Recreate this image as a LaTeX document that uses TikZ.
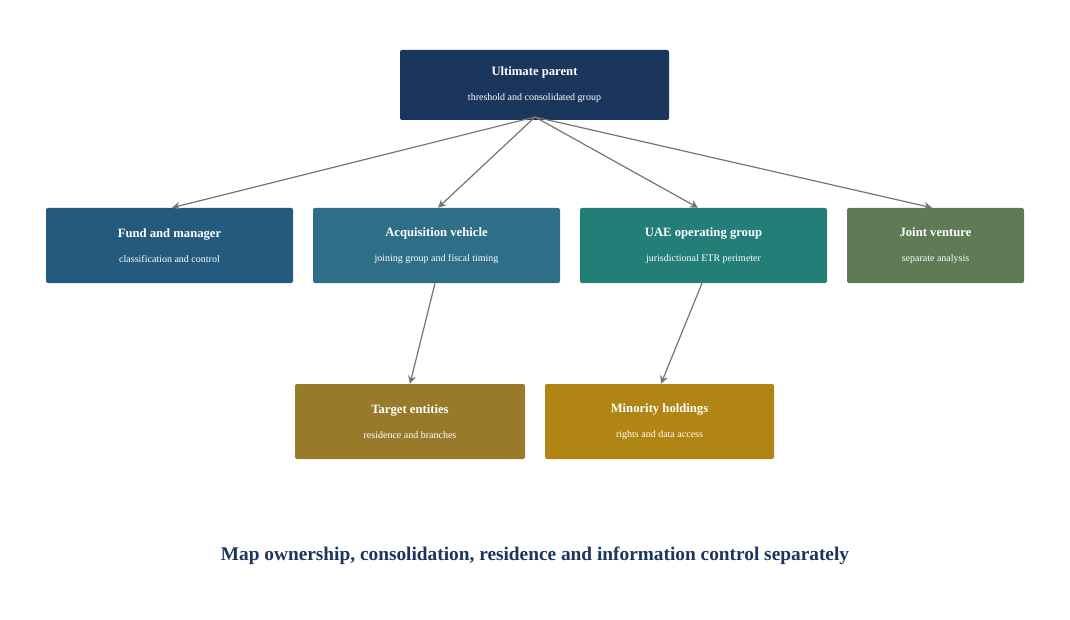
\documentclass[tikz,border=0pt]{standalone}
\usepackage{fontspec}
\setmainfont{Liberation Serif}
\usetikzlibrary{arrows.meta}
\definecolor{navy}{HTML}{1B365D}
\definecolor{fundblue}{HTML}{245A7E}
\definecolor{acqteal}{HTML}{2E6F87}
\definecolor{uaeteal}{HTML}{237E78}
\definecolor{jvgreen}{HTML}{5E7B56}
\definecolor{tgtgold}{HTML}{977B2B}
\definecolor{mingold}{HTML}{B08513}
\definecolor{linkgray}{HTML}{747474}
\tikzset{
	entity/.style={rounded corners=1.5pt, text=white, align=center,
		minimum height=56.25pt, inner sep=0pt},
	link/.style={draw=linkgray, line width=0.9pt, -{Stealth[length=6pt,width=6pt]}}
}
\newcommand{\ent}[2]{{\fontsize{9.5}{11}\selectfont\bfseries #1}\\[7pt]{\fontsize{7.5}{9}\selectfont #2}}
\begin{document}
\begin{tikzpicture}[x=0.75pt,y=-0.75pt]
		\useasboundingbox (0,0) rectangle (1070,620);
		\node[entity, fill=navy, minimum width=201.75pt, minimum height=52.5pt] (parent) at (534.5,85)
			{\ent{Ultimate parent}{threshold and consolidated group}};
		\node[entity, fill=fundblue, minimum width=185.25pt] (fund) at (169.5,245.5)
			{\ent{Fund and manager}{classification and control}};
		\node[entity, fill=acqteal, minimum width=185.25pt] (acq) at (436.5,245.5)
			{\ent{Acquisition vehicle}{joining group and fiscal timing}};
		\node[entity, fill=uaeteal, minimum width=185.25pt] (uae) at (703.5,245.5)
			{\ent{UAE operating group}{jurisdictional ETR perimeter}};
		\node[entity, fill=jvgreen, minimum width=132.75pt] (jv) at (935.5,245.5)
			{\ent{Joint venture}{separate analysis}};
		\node[entity, fill=tgtgold, minimum width=172.5pt] (target) at (410,421.5)
			{\ent{Target entities}{residence and branches}};
		\node[entity, fill=mingold, minimum width=171.75pt] (minority) at (659.5,421.5)
			{\ent{Minority holdings}{rights and data access}};
		% ownership links
		\coordinate (hub) at (535,117);
		\draw[link] (hub) -- (fund.north -| 172,0);
		\draw[link] (hub) -- (acq.north -| 438,0);
		\draw[link] (hub) -- (uae.north -| 698,0);
		\draw[link] (hub) -- (jv.north -| 932,0);
		\draw[link] (acq.south -| 435,0) -- (target.north -| 410,0);
		\draw[link] (uae.south -| 702,0) -- (minority.north -| 661,0);
		\node[text=navy, font=\fontsize{14.5}{17}\selectfont\bfseries] (caption) at (535,556)
			{Map ownership, consolidation, residence and information control separately};
	\end{tikzpicture}
\end{document}
